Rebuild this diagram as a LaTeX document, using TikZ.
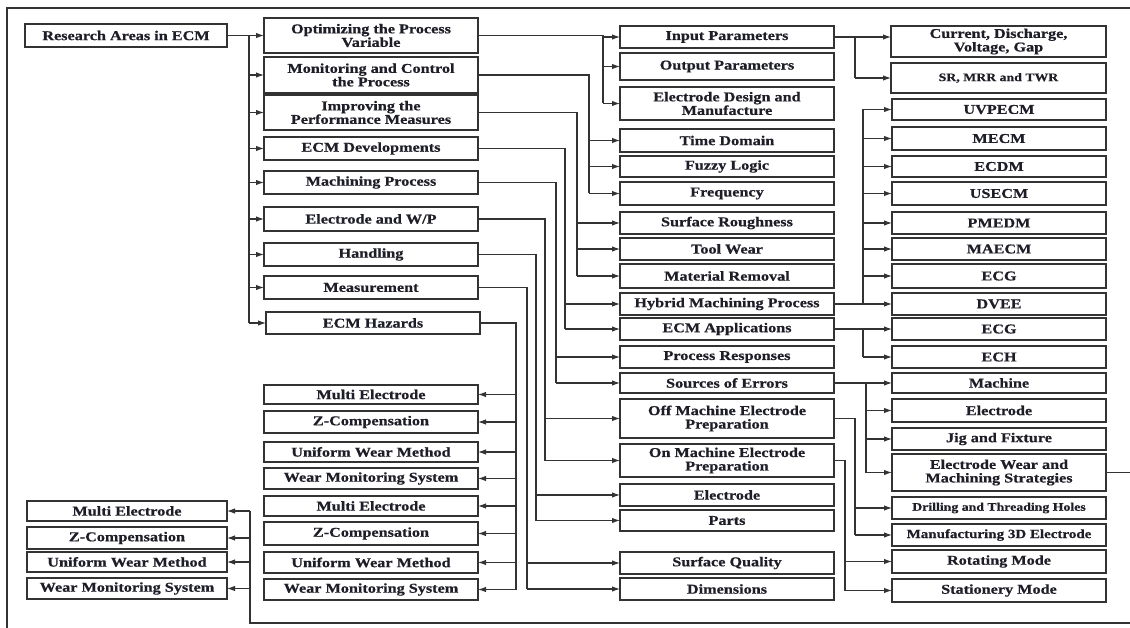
\documentclass[tikz,border=0pt]{standalone}
\usepackage{fontspec}
\setmainfont[FakeStretch=1.2,BoldFeatures={FakeBold=0.6}]{Liberation Serif}
\usetikzlibrary{arrows.meta}
\definecolor{ink}{HTML}{1E1E28}
\definecolor{edge}{HTML}{333333}
\tikzset{
  box/.style={draw=edge, line width=1.1pt, fill=white, inner sep=1pt, outer sep=0pt,
    align=center, text=ink, font=\bfseries\fontsize{13.5}{13.5}\selectfont},
  sm/.style={font=\bfseries\fontsize{11.5}{12}\selectfont},
  md/.style={font=\bfseries\fontsize{12.5}{13}\selectfont},
  ln/.style={draw=edge, line width=1.1pt},
  arr/.style={ln, -{Latex[length=8pt,width=5.5pt]}},
  frameline/.style={draw=edge, line width=1.2pt}
}
\newcommand\B[7][]{\node[box,#1,minimum width={(#5-#3)*1pt},minimum height={(#6-#4)*1pt}] (#2) at ({(#3+#5)/2},{(#4+#6)/2}) {#7};}
\begin{document}
\begin{tikzpicture}[x=1pt,y=-1pt]
\useasboundingbox (0,0) rectangle (1130,628);
\fill[white] (0,0) rectangle (1130,628);
\clip (0,0) rectangle (1130,628);
\draw[frameline] (7,640) -- (7,8) -- (1140,8);

% column 0
\B{ra}{25}{24}{227}{47}{Research Areas in ECM}
% column 1
\B{opt}{264}{18}{478}{53}{Optimizing the Process\\Variable}
\B{mon}{264}{57}{478}{93}{Monitoring and Control\\the Process}
\B{imp}{264}{95}{478}{130}{Improving the\\Performance Measures}
\B{dev}{264}{137}{478}{160}{ECM Developments}
\B{mach}{264}{171}{478}{194}{Machining Process}
\B{ewp}{264}{207}{478}{231}{Electrode and W/P}
\B{hand}{264}{243}{478}{266}{Handling}
\B{meas}{264}{276}{478}{299}{Measurement}
\B{haz}{266}{312}{480}{334}{ECM Hazards}
\B{me1}{264}{385}{478}{404}{Multi Electrode}
\B{zc1}{264}{411}{478}{433}{Z-Compensation}
\B{uw1}{264}{442}{478}{462}{Uniform Wear Method}
\B{wm1}{264}{468}{478}{489}{Wear Monitoring System}
\B{me2}{264}{496}{478}{516}{Multi Electrode}
\B{zc2}{264}{522}{478}{545}{Z-Compensation}
\B{uw2}{264}{552}{478}{573}{Uniform Wear Method}
\B{wm2}{264}{579}{478}{600}{Wear Monitoring System}
% far-left column
\B{me3}{27}{501}{227}{521}{Multi Electrode}
\B{zc3}{27}{527}{227}{549}{Z-Compensation}
\B{uw3}{27}{552}{227}{572}{Uniform Wear Method}
\B{wm3}{27}{578}{227}{599}{Wear Monitoring System}
% column 2
\B{inp}{620}{26}{834}{48}{Input Parameters}
\B{outp}{620}{53}{834}{80}{Output Parameters}
\B{edm}{620}{87}{834}{120}{Electrode Design and\\Manufacture}
\B{td}{620}{129}{834}{152}{Time Domain}
\B{fl}{620}{156}{834}{177}{Fuzzy Logic}
\B{fr}{620}{182}{834}{205}{Frequency}
\B{sr}{620}{212}{834}{234}{Surface Roughness}
\B{tw}{620}{238}{834}{260}{Tool Wear}
\B{mr}{620}{264}{834}{288}{Material Removal}
\B{hmp}{620}{293}{834}{315}{Hybrid Machining Process}
\B{app}{620}{318}{834}{340}{ECM Applications}
\B{pr}{620}{346}{834}{368}{Process Responses}
\B{se}{620}{373}{834}{393}{Sources of Errors}
\B{off}{620}{399}{834}{438}{Off Machine Electrode\\Preparation}
\B{on}{620}{444}{834}{477}{On Machine Electrode\\Preparation}
\B{el2}{620}{484}{834}{506}{Electrode}
\B{pa}{620}{510}{834}{531}{Parts}
\B{sq}{620}{552}{834}{574}{Surface Quality}
\B{dim}{620}{578}{834}{600}{Dimensions}
% column 3
\B{cur}{891}{26}{1106}{57}{Current, Discharge,\\Voltage, Gap}
\B[sm]{srm}{891}{63}{1106}{93}{SR, MRR and TWR}
\B{uv}{892}{99}{1106}{120}{UVPECM}
\B{mecm}{892}{127}{1106}{150}{MECM}
\B{ecdm}{892}{156}{1106}{177}{ECDM}
\B{us}{892}{182}{1106}{205}{USECM}
\B{pm}{892}{212}{1106}{234}{PMEDM}
\B{ma}{892}{238}{1106}{260}{MAECM}
\B{ecg1}{892}{264}{1106}{288}{ECG}
\B{dvee}{892}{293}{1106}{315}{DVEE}
\B{ecg2}{892}{318}{1106}{340}{ECG}
\B{ech}{892}{346}{1106}{368}{ECH}
\B{mac}{892}{373}{1106}{393}{Machine}
\B{el3}{892}{399}{1106}{422}{Electrode}
\B{jig}{892}{428}{1106}{450}{Jig and Fixture}
\B{ewms}{892}{454}{1106}{491}{Electrode Wear and\\Machining Strategies}
\B[sm]{dr}{892}{497}{1106}{519}{Drilling and Threading Holes}
\B[md]{m3d}{892}{524}{1106}{546}{Manufacturing 3D Electrode}
\B{rot}{892}{550}{1106}{573}{Rotating Mode}
\B{sta}{892}{579}{1106}{602}{Stationery Mode}

% bus coordinates
\coordinate (xa) at (249,0);
\coordinate (x1) at (603,0);
\coordinate (x2) at (589,0);
\coordinate (x3) at (577,0);
\coordinate (x4) at (565,0);
\coordinate (x5) at (556,0);
\coordinate (x6) at (545,0);
\coordinate (x7) at (536,0);
\coordinate (x8) at (527,0);
\coordinate (x9) at (516,0);
\coordinate (y1) at (855,0);
\coordinate (y2) at (863,0);
\coordinate (y3) at (866,0);
\coordinate (y4) at (855,0);
\coordinate (y5) at (845,0);
\coordinate (lp) at (1145,0);
\coordinate (lb) at (0,623);
\coordinate (xl) at (250,0);

% research areas -> column 1
\draw[ln] (ra.east) -- (ra.east -| xa) -- (haz.west -| xa);
\foreach \n in {opt,mon,imp,dev,mach,ewp,hand,meas,haz} \draw[arr] (\n.west -| xa) -- (\n.west);

% column 1 -> column 2
\draw[ln] (opt.east) -- (opt.east -| x1) -- (edm.west -| x1);
\foreach \n in {inp,outp,edm} \draw[arr] (\n.west -| x1) -- (\n.west);
\draw[ln] (mon.east) -- (mon.east -| x2) -- (fr.west -| x2);
\foreach \n in {td,fl,fr} \draw[arr] (\n.west -| x2) -- (\n.west);
\draw[ln] (imp.east) -- (imp.east -| x3) -- (mr.west -| x3);
\foreach \n in {sr,tw,mr} \draw[arr] (\n.west -| x3) -- (\n.west);
\draw[ln] (dev.east) -- (dev.east -| x4) -- (app.west -| x4);
\foreach \n in {hmp,app} \draw[arr] (\n.west -| x4) -- (\n.west);
\draw[ln] (mach.east) -- (mach.east -| x5) -- (se.west -| x5);
\foreach \n in {pr,se} \draw[arr] (\n.west -| x5) -- (\n.west);
\draw[ln] (ewp.east) -- (ewp.east -| x6) -- (on.west -| x6);
\foreach \n in {off,on} \draw[arr] (\n.west -| x6) -- (\n.west);
\draw[ln] (hand.east) -- (hand.east -| x7) -- (pa.west -| x7);
\foreach \n in {el2,pa} \draw[arr] (\n.west -| x7) -- (\n.west);
\draw[ln] (meas.east) -- (meas.east -| x8) -- (dim.west -| x8);
\foreach \n in {sq,dim} \draw[arr] (\n.west -| x8) -- (\n.west);
\draw[ln] (haz.east) -- (haz.east -| x9) -- (wm2.east -| x9);
\foreach \n in {me1,zc1,uw1,wm1,me2,zc2,uw2,wm2} \draw[arr] (\n.east -| x9) -- (\n.east);

% column 2 -> column 3
\draw[arr] (inp.east) -- (inp.east -| cur.west);
\draw[ln] (inp.east -| y1) -- (srm.west -| y1);
\draw[arr] (srm.west -| y1) -- (srm.west);
\draw[arr] (hmp.east) -- (dvee.west);
\draw[ln] (hmp.east -| y2) -- (uv.west -| y2);
\foreach \n in {uv,mecm,ecdm,us,pm,ma,ecg1} \draw[arr] (\n.west -| y2) -- (\n.west);
\draw[arr] (app.east) -- (ecg2.west);
\draw[ln] (app.east -| y2) -- (ech.west -| y2);
\draw[arr] (ech.west -| y2) -- (ech.west);
\draw[arr] (se.east) -- (mac.west);
\draw[ln] (se.east -| y3) -- (ewms.west -| y3);
\foreach \n in {el3,jig,ewms} \draw[arr] (\n.west -| y3) -- (\n.west);
\draw[ln] (off.east) -- (off.east -| y4) -- (m3d.west -| y4);
\foreach \n in {dr,m3d} \draw[arr] (\n.west -| y4) -- (\n.west);
\draw[ln] (on.east) -- (on.east -| y5) -- (sta.west -| y5);
\foreach \n in {rot,sta} \draw[arr] (\n.west -| y5) -- (\n.west);

% loop from electrode wear strategies back to far-left column
\draw[ln] (ewms.east) -- (ewms.east -| lp) -- (lp |- lb) -- (xl |- lb) -- (me3.east -| xl);
\foreach \n in {me3,zc3,uw3,wm3} \draw[arr] (\n.east -| xl) -- (\n.east);
\end{tikzpicture}
\end{document}
